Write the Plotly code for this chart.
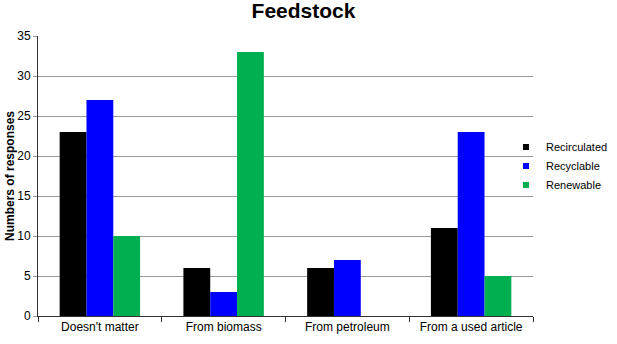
import plotly.graph_objects as go

categories = ["Doesn't matter", "From biomass", "From petroleum", "From a used article"]
recirculated = [23, 6, 6, 11]
recyclable = [27, 3, 7, 23]
renewable = [10, 33, 0, 5]
series_names = ["Recirculated", "Recyclable", "Renewable"]
colors = ["#000000", "#0000ff", "#00b050"]

fig = go.Figure()
for name, vals, c in zip(series_names, [recirculated, recyclable, renewable], colors):
    fig.add_trace(go.Bar(x=categories, y=vals, name=name, showlegend=False,
                         marker=dict(color=c, line=dict(width=0))))
# legend entries with small square markers
for name, c in zip(series_names, colors):
    fig.add_trace(go.Scatter(x=[None], y=[None], mode="markers", name=name,
                             marker=dict(symbol="square", size=6, color=c)))

font = "Liberation Sans, Arial, sans-serif"
L, R, T, B = 38, 0, 36, 28
W, H = 617, 344
pw = W - L - R
ph = H - T - B
fig.update_layout(
    width=W, height=H,
    margin=dict(l=L, r=R, t=T, b=B),
    paper_bgcolor="white", plot_bgcolor="white",
    barmode="group", bargap=0.35, bargroupgap=0,
    font=dict(family=font, size=12, color="black"),
    title=dict(text="<b>Feedstock</b>", x=303.5 / W, xanchor="center", xref="container",
               y=1 - 11 / H, yanchor="middle", yref="container", font=dict(size=21, family=font)),
    legend=dict(x=(506 - L) / pw, xanchor="left", y=(H - B - 166) / ph, yanchor="middle",
                bgcolor="rgba(0,0,0,0)", font=dict(size=11), itemwidth=30),
    xaxis=dict(domain=[0, (533 - L) / pw], showline=True, linecolor="#333", linewidth=1,
               ticks="outside", tickson="boundaries", ticklen=5, tickcolor="#333",
               tickfont=dict(size=12)),
    yaxis=dict(range=[0, 35], dtick=5, showgrid=True, gridcolor="#999", gridwidth=1,
               showline=True, linecolor="#333", linewidth=1, ticks="outside", ticklen=4,
               tickcolor="#999", zeroline=False, tickfont=dict(size=12),
               title=dict(text="<b>Numbers of responses</b>", standoff=0, font=dict(size=12))),
)
fig.write_html("out.html")
